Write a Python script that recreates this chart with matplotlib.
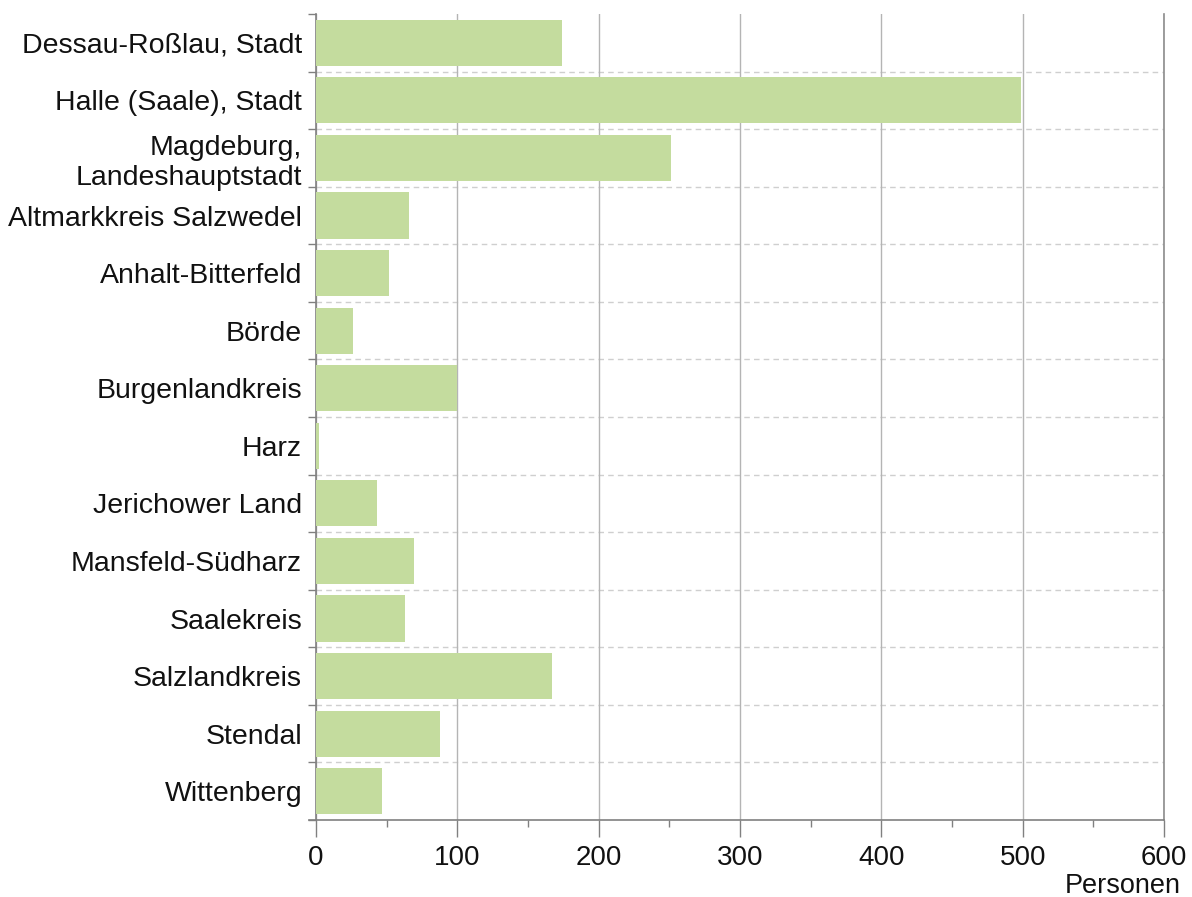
import matplotlib
matplotlib.use("Agg")
import matplotlib.pyplot as plt
import numpy as np

categories = [
    "Dessau-Roßlau, Stadt",
    "Halle (Saale), Stadt",
    "Magdeburg,\nLandeshauptstadt",
    "Altmarkkreis Salzwedel",
    "Anhalt-Bitterfeld",
    "Börde",
    "Burgenlandkreis",
    "Harz",
    "Jerichower Land",
    "Mansfeld-Südharz",
    "Saalekreis",
    "Salzlandkreis",
    "Stendal",
    "Wittenberg",
]
values = [174, 499, 251, 66, 52, 26, 100, 2, 43, 69, 63, 167, 88, 47]
x_ticks = [0, 100, 200, 300, 400, 500, 600]
x_label = "Personen"

plt.rcParams['font.family'] = ['Liberation Sans', 'DejaVu Sans']

fig = plt.figure(figsize=(11.92, 8.97), dpi=100)
ax = fig.add_axes([316/1192, 1-820/897, (1164-316)/1192, (820-14)/897])

n = len(categories)
y = np.arange(n)
ax.barh(y, values, height=0.8, color='#c4dc9e', zorder=3)

ax.set_xlim(0, 600)
ax.set_ylim(n - 0.5, -0.5)

# x axis
ax.set_xticks(x_ticks)
ax.set_xticks(np.arange(50, 600, 100), minor=True)
ax.tick_params(axis='x', which='major', length=12, width=1, color='#808080',
               labelsize=20, pad=6, labelcolor='#111111')
ax.tick_params(axis='x', which='minor', length=5, width=1, color='#808080')
ax.xaxis.grid(True, which='major', color='#b4b4b4', linewidth=1, zorder=1)

# y axis
ax.set_yticks(y)
ax.set_yticklabels(categories)
ax.set_yticks(np.arange(n + 1) - 0.5, minor=True)
ax.tick_params(axis='y', which='major', length=0, labelsize=20.5, pad=10,
               labelcolor='#111111')
ax.tick_params(axis='y', which='minor', length=6, width=1, color='#808080')
for b in np.arange(1, n) - 0.5:
    ax.axhline(b, color='#cfcfcf', linestyle=(0, (4, 3)), linewidth=1, zorder=1)

ax.spines['top'].set_visible(False)
ax.spines['right'].set_color('#8c8c8c')
ax.spines['right'].set_linewidth(1.2)
for s in ['left', 'bottom']:
    ax.spines[s].set_color('#808080')
    ax.spines[s].set_linewidth(1.2)
ax.spines['bottom'].set_bounds(-5, 600)

fig.text(1181/1192, 1-893/897, x_label, ha='right', va='baseline',
         fontsize=19.5, color='#111111')

fig.savefig("out.png", dpi=100)
